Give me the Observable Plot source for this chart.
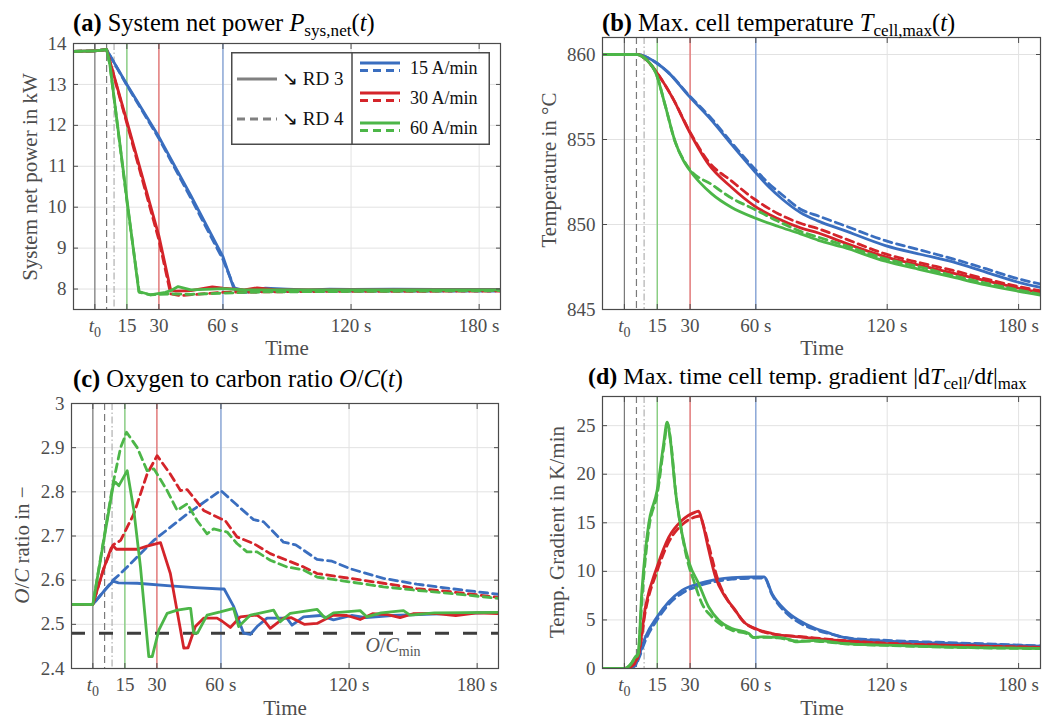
<!DOCTYPE html>
<html><head><meta charset="utf-8">
<script src="https://cdn.jsdelivr.net/npm/d3@7"></script>
<script src="https://cdn.jsdelivr.net/npm/@observablehq/plot@0.6"></script>
<style>
html,body{margin:0;padding:0;background:#fff;}
#fig{position:relative;width:1063px;height:720px;overflow:hidden;font-family:"Liberation Serif","Times New Roman",serif;}
.pnl{position:absolute;}
.ttl{position:absolute;font-size:24.5px;color:#000;white-space:nowrap;line-height:1;}
.lab{position:absolute;font-size:21px;color:#4d4d4d;white-space:nowrap;line-height:1;transform:translate(-50%,-50%);}
.rot{transform:translate(-50%,-50%) rotate(-90deg);}
sub{font-size:70%;vertical-align:-0.28em;line-height:0;}
</style></head><body><div id="fig"></div><script>
// ---------- shared axis data ----------
const xTicks = [0, 15, 30, 60, 120, 180];
const xTickLabels = ["t0", "15", "30", "60 s", "120 s", "180 s"];
const rateLabels = ["15 A/min", "30 A/min", "60 A/min"];
const rdLabels = ["RD 3", "RD 4"];
const refTimes = [0, 5.5, 9, 15, 30, 60];

// ---------- (a) system net power, kW ----------
const powerTicks = [8, 9, 10, 11, 12, 13, 14];
const powBlue3 = [[-10,13.81],[0,13.82],[5.5,13.85],[15,13.0],[30,11.72],[45,10.28],[60,8.79],[65,8.03],[70,7.97],[80,8.02],[90,8.0],[100,7.98],[110,8.0],[120,7.99],[140,8.0],[160,7.99],[190,7.99]];
const powBlue4 = [[-10,13.81],[0,13.82],[5.5,13.85],[15,12.98],[30,11.68],[45,10.22],[60,8.72],[66,7.95],[70,7.92],[80,7.94],[100,7.95],[130,7.95],[160,7.95],[190,7.95]];
const powRed3 = [[-10,13.81],[0,13.82],[5.5,13.85],[15,12.1],[30,9.3],[35.5,7.98],[38,7.95],[45,7.96],[55,8.05],[60,8.02],[70,7.98],[76,8.03],[85,7.98],[100,7.98],[130,7.98],[190,7.98]];
const powRed4 = [[-10,13.81],[0,13.82],[5.5,13.85],[15,12.05],[30,9.2],[35.5,7.88],[40,7.84],[50,7.88],[60,7.92],[80,7.93],[100,7.94],[190,7.95]];
const powGreen3 = [[-10,13.81],[0,13.82],[5.5,13.85],[7,13.5],[15,10.2],[20.6,7.94],[26,7.86],[33,7.92],[35.5,7.96],[39,8.06],[45,7.98],[55,8.0],[60,8.01],[70,7.98],[100,7.98],[190,7.98]];
const powGreen4 = [[-10,13.81],[0,13.82],[5.5,13.85],[7,13.5],[15,10.15],[20.8,7.92],[26,7.86],[35,7.88],[45,7.87],[60,7.9],[80,7.93],[190,7.96]];

// ---------- (b) max cell temperature, °C ----------
const tempTicks = [845, 850, 855, 860];
const tempBlue3 = [[-10,860],[6,860],[10,859.85],[14.7,859.5],[20,858.95],[29.5,857.55],[40,856.1],[49,854.7],[59.3,853.15],[66,852.2],[72,851.5],[80.4,850.7],[88.6,850.2],[100,849.67],[119.2,848.76],[135,848.25],[150,847.8],[165,847.2],[180,846.6],[190,846.3]];
const tempBlue4 = [[-10,860],[6,860],[10,859.85],[14.7,859.5],[20,858.95],[29.5,857.6],[40,856.2],[49,854.8],[59.3,853.3],[66,852.4],[72,851.75],[80.4,850.9],[88.6,850.5],[100,849.96],[119.2,849.05],[135,848.5],[150,847.98],[165,847.4],[180,846.8],[190,846.5]];
const tempRed3 = [[-10,860],[6,860],[10,859.7],[15,858.9],[22,857.45],[29.5,855.5],[38.4,853.55],[49,852.18],[59.3,851.1],[70,850.35],[80.4,849.8],[88.6,849.5],[100,848.95],[119.2,848.1],[135,847.6],[150,847.14],[165,846.7],[180,846.25],[190,846.0]];
const tempRed4 = [[-10,860],[6,860],[10,859.7],[15,858.9],[22,857.45],[29.5,855.55],[38.4,853.7],[49,852.55],[59.3,851.5],[70,850.65],[80.4,850.07],[88.6,849.75],[100,849.2],[119.2,848.27],[135,847.75],[150,847.3],[165,846.8],[180,846.35],[190,846.1]];
const tempGreen3 = [[-10,860],[6,860],[8,859.9],[10,859.7],[14.7,858.8],[18.5,857.07],[23.1,854.9],[27,853.75],[29.5,853.25],[39.9,851.8],[49,851.0],[59.3,850.4],[70,849.9],[80.4,849.45],[88.6,849.07],[100,848.66],[119.2,847.84],[135,847.35],[150,846.9],[165,846.45],[180,846.07],[190,845.85]];
const tempGreen4 = [[-10,860],[6,860],[8,859.9],[10,859.7],[14.7,858.8],[18.5,857.07],[23.1,854.9],[27,853.8],[29.5,853.3],[39.9,852.35],[49,851.55],[59.3,850.9],[70,850.2],[80.4,849.6],[88.6,849.25],[100,848.8],[119.2,847.98],[135,847.5],[150,847.0],[165,846.55],[180,846.15],[190,845.9]];

// ---------- (c) oxygen to carbon ratio ----------
const ocTicks = [2.4, 2.5, 2.6, 2.7, 2.8, 2.9, 3.0];
const ocMin = 2.48;
const ocBlue3 = [[-10,2.545],[0,2.545],[5,2.574],[9.5,2.598],[12,2.594],[20.8,2.593],[36.3,2.587],[48,2.583],[59.9,2.58],[61.5,2.58],[66,2.54],[70.6,2.48],[73.7,2.477],[76.9,2.495],[81.6,2.514],[90.9,2.514],[93.3,2.498],[98.7,2.517],[106.5,2.52],[112.7,2.51],[121.2,2.52],[128,2.515],[140,2.52],[159,2.523],[190,2.527]];
const ocBlue4 = [[-10,2.545],[0,2.545],[5,2.574],[9.5,2.6],[13,2.615],[28.5,2.69],[44.2,2.75],[59.9,2.803],[67.5,2.77],[75.3,2.737],[80,2.732],[89.3,2.686],[95,2.68],[105,2.647],[112,2.643],[120.5,2.626],[136.1,2.604],[151.7,2.591],[167.3,2.581],[190,2.568]];
const ocRed3 = [[-10,2.545],[0,2.545],[5,2.625],[8.5,2.672],[9.5,2.678],[11,2.67],[20.8,2.67],[25.4,2.677],[31.7,2.685],[36.3,2.615],[42.6,2.446],[44.6,2.447],[48,2.495],[51.9,2.514],[58.2,2.514],[60.6,2.507],[64.4,2.493],[69.1,2.517],[76.9,2.521],[80,2.51],[83.1,2.491],[89.3,2.514],[93,2.515],[99,2.5],[105,2.502],[112.7,2.521],[119,2.52],[125.2,2.511],[131,2.524],[138,2.522],[143.9,2.515],[150,2.524],[160,2.525],[170,2.52],[180,2.526],[190,2.524]];
const ocRed4 = [[-10,2.545],[0,2.545],[5,2.625],[9.5,2.68],[13,2.69],[19.2,2.75],[25.4,2.84],[30.1,2.882],[36.3,2.84],[41,2.803],[44.2,2.805],[51.9,2.758],[59.9,2.739],[62,2.735],[67.5,2.698],[75.3,2.683],[83.1,2.66],[90.9,2.645],[98.7,2.63],[105,2.615],[120.5,2.604],[136.1,2.593],[151.7,2.581],[167.3,2.574],[190,2.561]];
const ocGreen3 = [[-10,2.545],[0,2.545],[9.5,2.814],[10.5,2.822],[12.2,2.814],[16.1,2.848],[19.2,2.758],[22.3,2.63],[26.2,2.427],[27.8,2.427],[30.9,2.487],[34.8,2.525],[39.5,2.532],[44.9,2.536],[45.8,2.536],[47.2,2.48],[49,2.48],[53.5,2.521],[59.7,2.528],[65.9,2.536],[68.3,2.495],[73.8,2.521],[84.7,2.532],[87.8,2.506],[92.5,2.525],[105,2.534],[108.8,2.514],[112.7,2.526],[125.2,2.531],[128.3,2.517],[135,2.526],[145.5,2.531],[148.6,2.521],[160,2.526],[190,2.527]];
const ocGreen4 = [[-10,2.545],[0,2.545],[9.5,2.82],[13,2.9],[15.8,2.935],[20.8,2.9],[25.4,2.848],[28.6,2.852],[34.8,2.803],[39.5,2.758],[44.2,2.773],[48.8,2.735],[53.5,2.705],[56.6,2.716],[62.9,2.709],[67.5,2.683],[72.2,2.664],[76.9,2.664],[83.1,2.645],[90.9,2.63],[98.7,2.623],[105,2.607],[120.5,2.596],[136.1,2.585],[151.7,2.577],[167.3,2.57],[190,2.559]];

// ---------- (d) max time cell temperature gradient, K/min ----------
const gradTicks = [0, 5, 10, 15, 20, 25];
const grBlue3 = [[-10,0],[0,0],[3,0.1],[5,0.34],[6.5,1.2],[9.6,3.25],[14.9,5.3],[20.2,6.85],[26.3,8.05],[33.9,8.74],[41.6,9.15],[49.1,9.36],[59.4,9.42],[63.9,9.42],[67.4,7.71],[73.5,6.0],[79.6,4.97],[87.2,4.11],[93.3,3.66],[98,3.3],[103.7,3.05],[115,2.88],[127.5,2.74],[143,2.62],[159.3,2.5],[175,2.4],[190,2.29]];
const grBlue4 = [[-10,0],[0,0],[3,0.08],[5,0.3],[6.5,1.0],[9.6,2.9],[14.9,5.0],[20.2,6.6],[26.3,7.75],[33.9,8.5],[41.6,8.95],[49.1,9.2],[59.4,9.3],[63.9,9.32],[67.4,7.6],[73.5,5.8],[79.6,4.75],[87.2,4.0],[93.3,3.6],[103.7,3.1],[115,2.95],[127.5,2.82],[143,2.7],[159.3,2.58],[175,2.45],[190,2.33]];
const grRed3 = [[-10,0],[0,0],[3,0.2],[5,0.68],[6.5,1.54],[9.6,6.33],[14.9,10.45],[20.2,13.5],[26.3,15.25],[32.4,16.1],[33.9,16.2],[35.4,15.25],[38.5,12.2],[41.6,9.4],[46.1,7.36],[50.7,6.0],[53.7,4.97],[59.8,4.11],[67.4,3.6],[79.6,3.25],[95.7,2.91],[119.5,2.57],[143,2.4],[165,2.28],[190,2.16]];
const grRed4 = [[-10,0],[0,0],[3,0.18],[5,0.6],[6.5,1.4],[9.6,5.9],[14.9,10.0],[20.2,13.0],[26.3,14.8],[32.4,15.6],[34.6,15.7],[36,14.8],[39.5,11.8],[42.6,9.2],[47,7.1],[51.5,5.7],[55,4.7],[60.5,4.0],[67.4,3.55],[79.6,3.3],[95.7,2.95],[119.5,2.6],[143,2.42],[165,2.3],[190,2.18]];
const grGreen3 = [[-10,0],[0,0],[3,0.5],[5,1.2],[6.2,1.5],[8,8.05],[11.1,14.9],[14.9,18.3],[17.9,23.1],[19.5,25.35],[21,23.5],[23.3,18.3],[26.3,13.9],[29.7,10.8],[33.9,8.74],[38.5,6.33],[43.1,4.97],[49.1,4.11],[56.8,3.6],[59,3.19],[62.6,3.26],[70,3.2],[76,2.95],[78.2,2.74],[87.7,2.9],[100.5,2.57],[119.5,2.4],[143.3,2.23],[165,2.13],[190,2.06]];
const grGreen4 = [[-10,0],[0,0],[3,0.45],[5,1.1],[6.2,1.4],[8.2,7.8],[11.3,14.6],[15.1,18.1],[18.1,23.0],[19.7,25.2],[21.2,23.3],[23.5,18.0],[26.5,13.6],[29.5,10.5],[31.6,9.08],[35.4,6.68],[40,5.3],[49.1,3.94],[56.8,3.5],[59,3.2],[62.6,3.22],[70,3.15],[78,2.85],[88,2.8],[100.5,2.55],[119.5,2.38],[143.3,2.22],[165,2.12],[190,2.05]];

// ---------- styles ----------
const rateColors = ["#3a6ebf", "#d4242a", "#4cb648"];
const refStyles = [
  {stroke:"#7a7a7a", dash:null, width:1.2},
  {stroke:"#7a7a7a", dash:"7,4", width:1.2},
  {stroke:"#b0b0b0", dash:"7,2.5,1.5,2.5", width:1.2},
  {stroke:"#7fcc78", dash:null, width:1.3},
  {stroke:"#e36b6b", dash:null, width:1.3},
  {stroke:"#7f9fd6", dash:null, width:1.3}
];
const FONT = "Liberation Serif, Times New Roman, serif";
const fig = document.getElementById("fig");

function drawPanel(p) {
  const seriesSets = [[p.s[0], p.s[1]], [p.s[2], p.s[3]], [p.s[4], p.s[5]]];
  const lineMarks = [];
  seriesSets.forEach((pair, i) => {
    lineMarks.push(Plot.line(pair[0], {x: d => d[0], y: d => d[1], stroke: rateColors[i], strokeWidth: 2.8, curve: p.curve, clip: true}));
    lineMarks.push(Plot.line(pair[1], {x: d => d[0], y: d => d[1], stroke: rateColors[i], strokeWidth: 2.8, strokeDasharray: "8,5", curve: p.curve, clip: true}));
  });
  const refMarks = refTimes.map((t, i) => Plot.ruleX([t], {stroke: refStyles[i].stroke, strokeWidth: refStyles[i].width, strokeDasharray: refStyles[i].dash || undefined}));
  const svg = Plot.plot({
    width: p.w, height: p.h,
    marginLeft: p.mL, marginRight: p.mR, marginTop: p.mT, marginBottom: p.mB,
    x: {domain: [-10, 190]},
    y: {domain: p.yDomain},
    style: {fontFamily: FONT, background: "transparent", overflow: "visible"},
    marks: [
      Plot.gridY(p.yTicks, {stroke: "#e2e2e2", strokeOpacity: 1, strokeWidth: 1}),
      Plot.gridX(xTicks, {stroke: "#e2e2e2", strokeOpacity: 1, strokeWidth: 1}),
      ...refMarks,
      ...(p.extra || []),
      ...lineMarks,
      Plot.frame({stroke: "#4a4a4a", strokeWidth: 1.2}),
      Plot.axisX(xTicks, {anchor: "bottom", tickSize: -5, tickPadding: 14, fontSize: 19, color: "#4d4d4d", label: null, tickFormat: d => xTickLabels[xTicks.indexOf(d)]}),
      Plot.axisX(xTicks, {anchor: "top", tickSize: -5, color: "#4d4d4d", label: null, tickFormat: () => ""}),
      Plot.axisY(p.yTicks, {anchor: "left", tickSize: -5, tickPadding: 12, fontSize: 19, color: "#4d4d4d", label: null, tickFormat: p.yFmt}),
      Plot.axisY(p.yTicks, {anchor: "right", tickSize: -5, color: "#4d4d4d", label: null, tickFormat: () => ""})
    ]
  });
  svg.querySelectorAll('g[aria-label="x-axis tick label"] text').forEach(t => {
    if (t.textContent === "t0") t.innerHTML = '<tspan font-style="italic">t</tspan><tspan dy="5" font-size="14">0</tspan>';
  });
  const d = document.createElement("div");
  d.className = "pnl";
  d.style.left = p.left + "px"; d.style.top = p.top + "px";
  d.appendChild(svg);
  fig.appendChild(d);
}

function addHTML(cls, html, x, y) {
  const e = document.createElement("div");
  e.className = cls; e.innerHTML = html;
  e.style.left = x + "px"; e.style.top = y + "px";
  fig.appendChild(e);
  return e;
}

drawPanel({left: 0, top: 0, w: 520, h: 360, mL: 73, mR: 20, mT: 43, mB: 51,
  yDomain: [7.5, 14], yTicks: powerTicks, yFmt: d => String(d), curve: "linear",
  s: [powBlue3, powBlue4, powRed3, powRed4, powGreen3, powGreen4]});
drawPanel({left: 520, top: 0, w: 543, h: 360, mL: 82, mR: 23, mT: 37, mB: 51,
  yDomain: [845, 861], yTicks: tempTicks, yFmt: d => String(d), curve: "monotone-x",
  s: [tempBlue3, tempBlue4, tempRed3, tempRed4, tempGreen3, tempGreen4]});
drawPanel({left: 0, top: 360, w: 520, h: 360, mL: 71, mR: 22, mT: 43, mB: 52,
  yDomain: [2.4, 3.0], yTicks: ocTicks, yFmt: d => String(+d.toFixed(1)), curve: "linear",
  extra: [Plot.ruleY([ocMin], {stroke: "#3d3d3d", strokeWidth: 3, strokeDasharray: "14,14"})],
  s: [ocBlue3, ocBlue4, ocRed3, ocRed4, ocGreen3, ocGreen4]});
drawPanel({left: 520, top: 360, w: 543, h: 360, mL: 82, mR: 23, mT: 36, mB: 52,
  yDomain: [0, 28], yTicks: gradTicks, yFmt: d => String(d), curve: "monotone-x",
  s: [grBlue3, grBlue4, grRed3, grRed4, grGreen3, grGreen4]});

// titles
addHTML("ttl", '<b>(a)</b> System net power <i>P</i><sub>sys,net</sub>(<i>t</i>)', 73, 11);
addHTML("ttl", '<b>(b)</b> Max. cell temperature <i>T</i><sub>cell,max</sub>(<i>t</i>)', 602, 11);
addHTML("ttl", '<b>(c)</b> Oxygen to carbon ratio <i>O</i>/<i>C</i>(<i>t</i>)', 73, 367);
const td = addHTML("ttl", '<b>(d)</b> Max. time cell temp. gradient |d<i>T</i><sub>cell</sub>/d<i>t</i>|<sub>max</sub>', 588, 364);
td.style.fontSize = "24px";
// axis labels
addHTML("lab", "Time", 287, 348);
addHTML("lab", "Time", 822, 348);
addHTML("lab", "Time", 285, 708);
addHTML("lab", "Time", 822, 708);
addHTML("lab rot", "System net power in kW", 30, 177);
addHTML("lab rot", "Temperature in °C", 549, 170);
addHTML("lab rot", '<i>O</i>/<i>C</i> ratio in −', 22, 545);
addHTML("lab rot", "Temp. Gradient in K/min", 557, 532);
const om = addHTML("lab", '<i>O</i>/<i>C</i><sub>min</sub>', 393, 645);
om.style.color = "#555"; om.style.fontSize = "20px";

// legend (panel a)
(function () {
  const ns = "http://www.w3.org/2000/svg";
  const lg = document.createElementNS(ns, "svg");
  lg.setAttribute("width", 259); lg.setAttribute("height", 93);
  lg.style.position = "absolute"; lg.style.left = "231px"; lg.style.top = "52px";
  let h = '<rect x="0.75" y="0.75" width="257.5" height="91.5" fill="#fff" stroke="#4a4a4a" stroke-width="1.5"/>';
  h += '<line x1="121" x2="121" y1="0" y2="93" stroke="#4a4a4a" stroke-width="1.5"/>';
  const rdY = [27, 67];
  rdLabels.forEach((lab, i) => {
    h += `<line x1="6" x2="46" y1="${rdY[i]}" y2="${rdY[i]}" stroke="#808080" stroke-width="2.8" ${i ? 'stroke-dasharray="8,5"' : ''}/>`;
    h += `<text x="51" y="${rdY[i] + 6}" font-size="19" fill="#111" font-family="${FONT}">\u2198 ${lab}</text>`;
  });
  const rY = [11, 41, 71];
  rateLabels.forEach((lab, i) => {
    h += `<line x1="129" x2="169" y1="${rY[i]}" y2="${rY[i]}" stroke="${rateColors[i]}" stroke-width="2.8"/>`;
    h += `<line x1="129" x2="169" y1="${rY[i] + 7.5}" y2="${rY[i] + 7.5}" stroke="${rateColors[i]}" stroke-width="2.8" stroke-dasharray="8,5"/>`;
    h += `<text x="179" y="${rY[i] + 11}" font-size="18" fill="#111" font-family="${FONT}">${lab}</text>`;
  });
  lg.innerHTML = h;
  fig.appendChild(lg);
})();
</script></body></html>
